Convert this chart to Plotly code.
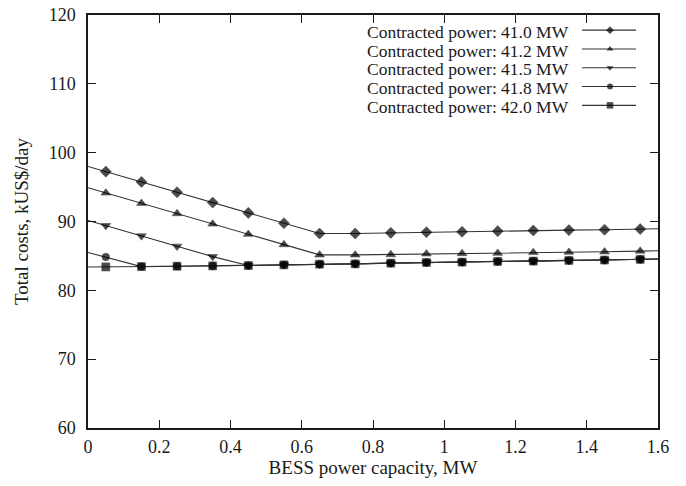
import plotly.graph_objects as go

# ---- data ----
bess_mw = [0.0, 0.05, 0.15, 0.25, 0.35, 0.45, 0.55, 0.65, 0.75, 0.85,
           0.95, 1.05, 1.15, 1.25, 1.35, 1.45, 1.55, 1.6]
cp_410 = [98.0, 97.25, 95.75, 94.25, 92.75, 91.25, 89.75, 88.25, 88.25, 88.35,
          88.45, 88.5, 88.6, 88.7, 88.75, 88.8, 88.9, 88.95]
cp_412 = [94.9, 94.15, 92.65, 91.15, 89.65, 88.15, 86.65, 85.15, 85.15, 85.2,
          85.3, 85.35, 85.4, 85.5, 85.55, 85.6, 85.7, 85.75]
cp_415 = [90.15, 89.4, 87.9, 86.4, 84.9, 83.6, 83.7, 83.8, 83.85, 83.95,
          84.05, 84.1, 84.2, 84.25, 84.35, 84.4, 84.5, 84.55]
cp_418 = [85.5, 84.85, 83.45, 83.5, 83.55, 83.6, 83.7, 83.8, 83.85, 83.95,
          84.05, 84.1, 84.2, 84.25, 84.35, 84.4, 84.5, 84.55]
cp_420 = [83.4, 83.4, 83.45, 83.5, 83.55, 83.6, 83.7, 83.8, 83.85, 83.95,
          84.05, 84.1, 84.2, 84.25, 84.35, 84.4, 84.5, 84.55]
series_names = ["Contracted power: 41.0 MW", "Contracted power: 41.2 MW",
                "Contracted power: 41.5 MW", "Contracted power: 41.8 MW",
                "Contracted power: 42.0 MW"]
series_values = [cp_410, cp_412, cp_415, cp_418, cp_420]
x_ticks = [0, 0.2, 0.4, 0.6, 0.8, 1.0, 1.2, 1.4, 1.6]
y_ticks = [60, 70, 80, 90, 100, 110, 120]

# ---- style ----
symbols = ["diamond", "triangle-up", "triangle-down", "circle", "square"]
msizes = [8.5, 8.5, 8.5, 7.5, 8]
leg_msizes = [6, 6, 6, 6, 6.5]
FONT = "Liberation Serif, Times New Roman, DejaVu Serif, serif"
INK = "#1a1a1a"

fig = go.Figure()
n = len(bess_mw)
for name, vals, sym, ms in zip(series_names, series_values, symbols, msizes):
    sizes = [0] + [ms] * (n - 2) + [0]
    fig.add_trace(go.Scatter(
        x=bess_mw, y=vals, mode="lines+markers", name=name,
        line=dict(color="#333333", width=1.1),
        marker=dict(symbol=sym, size=sizes, color="black",
                    line=dict(width=0.6, color="black")),
        showlegend=False, xaxis="x", yaxis="y"))

# custom legend (text left, sample right) on an overlay axis spanning the plot area
row_px = [31.8, 50.6, 69.4, 88.2, 107.0]
top_px, bot_px, left_px, right_px = 15, 428, 88, 658
H = bot_px - top_px
W = right_px - left_px
text_x = (570 - left_px) / W
l0 = (582 - left_px) / W
l1 = (636 - left_px) / W
lm = (610 - left_px) / W
annotations = []
for name, sym, ms, ypx in zip(series_names, symbols, leg_msizes, row_px):
    yp = (bot_px - ypx) / H
    fig.add_trace(go.Scatter(
        x=[l0, lm, l1], y=[yp + 0.004, yp + 0.004, yp + 0.004], mode="lines+markers",
        line=dict(color="#333333", width=1.1),
        marker=dict(symbol=sym, size=[0, ms, 0], color="black", line=dict(width=0)),
        showlegend=False, xaxis="x2", yaxis="y2", hoverinfo="skip"))
    annotations.append(dict(
        x=text_x, y=yp, xref="x2", yref="y2", text=name, showarrow=False,
        xanchor="right", yanchor="middle", borderpad=0,
        font=dict(family=FONT, size=17.5, color=INK)))

axis_common = dict(
    showline=True, linecolor=INK, linewidth=1.5, mirror="ticks",
    ticks="inside", ticklen=8, tickwidth=1.2, tickcolor=INK,
    showgrid=False, zeroline=False, automargin=False,
    tickfont=dict(family=FONT, size=18, color=INK))

fig.update_layout(
    width=686, height=486,
    font=dict(family=FONT, color=INK),
    margin=dict(l=left_px, r=686 - right_px, t=top_px, b=486 - bot_px),
    paper_bgcolor="white", plot_bgcolor="white",
    xaxis=dict(range=[0, 1.6], tickvals=x_ticks,
               ticktext=["0", "0.2", "0.4", "0.6", "0.8", "1", "1.2", "1.4", "1.6"],
               ticklabelstandoff=2,
               title=dict(text="BESS power capacity, MW", standoff=4,
                          font=dict(family=FONT, size=19, color=INK)),
               **axis_common),
    yaxis=dict(range=[60, 120], tickvals=y_ticks, ticklabelstandoff=7,
               title=dict(text="Total costs, kUS$/day", standoff=15,
                          font=dict(family=FONT, size=19, color=INK)),
               **axis_common),
    xaxis2=dict(range=[0, 1], overlaying="x", visible=False, fixedrange=True),
    yaxis2=dict(range=[0, 1], overlaying="y", visible=False, fixedrange=True),
    annotations=annotations,
    showlegend=False,
)

fig.write_html("out.html")
